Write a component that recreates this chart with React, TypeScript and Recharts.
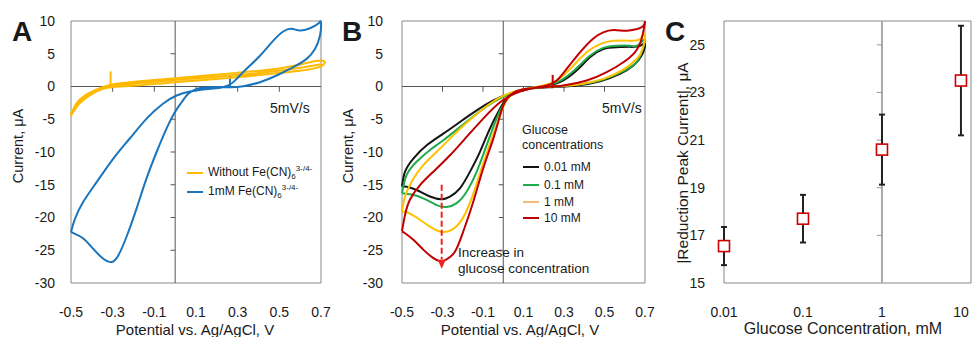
import React from "react";
import {
  LineChart,
  Line,
  XAxis,
  YAxis,
  ReferenceLine,
  ReferenceArea,
  ReferenceDot,
  ScatterChart,
  Scatter,
  ErrorBar,
} from "recharts";

// shared axis ticks for the two CV panels
const potentialTicks = [-0.5, -0.3, -0.1, 0.1, 0.3, 0.5, 0.7];
const currentTicks = [-30, -25, -20, -15, -10, -5, 0, 5, 10];
const originTicksX = [-0.3, -0.1, 0.1, 0.3, 0.5]; // little marks on the I = 0 line
const originTicksY = [-25, -20, -15, -10, -5, 5]; // little marks on the E = 0 line

// Panel A: without ferricyanide (two cycles)
const withoutV = [-0.5, -0.474, -0.434, -0.377, -0.313, -0.185, 0, 0.295, 0.535, 0.7, 0.69, 0.535, 0.295, 0, -0.185, -0.313, -0.377, -0.434, -0.474, -0.5, -0.474, -0.434, -0.377, -0.313, -0.185, 0, 0.295, 0.535, 0.7];
const withoutI = [-4.2, -2.6, -1.37, -0.46, 0.25, 0.76, 1.27, 2.08, 2.95, 3.96, 2.95, 2.18, 1.42, 0.66, 0.15, -0.1, -0.76, -1.88, -3.15, -4.4, -2.8, -1.6, -0.6, 0.1, 0.5, 1.0, 1.75, 2.55, 3.4];

// Panel A: 1 mM Fe(CN)6
const ferriV = [-0.5, -0.481, -0.441, -0.377, -0.297, -0.217, -0.137, -0.057, 0.007, 0.071, 0.135, 0.199, 0.255, 0.295, 0.343, 0.407, 0.471, 0.519, 0.559, 0.599, 0.647, 0.687, 0.7, 0.695, 0.671, 0.631, 0.567, 0.487, 0.407, 0.327, 0.263, 0.167, 0.103, 0.063, 0.031, -0.001, -0.041, -0.089, -0.137, -0.185, -0.233, -0.273, -0.305, -0.345, -0.393, -0.441, -0.481, -0.5];
const ferriI = [-22.2, -20.2, -17.6, -14.6, -11, -7.9, -4.9, -2.6, -1.37, -0.76, -0.46, -0.25, 0.15, 1.17, 2.7, 4.7, 7.0, 8.4, 8.8, 8.55, 8.9, 9.6, 9.8, 7.77, 5.74, 4.22, 2.95, 1.68, 0.66, 0.05, -0.1, -0.1, -0.36, -1.12, -2.4, -3.9, -6.4, -10, -14, -18.6, -22.9, -25.8, -26.8, -26.3, -24.8, -23.2, -22.5, -22.2];

// Panel B: glucose series
const g001V = [-0.5, -0.485, -0.444, -0.378, -0.296, -0.214, -0.131, -0.049, 0.033, 0.115, 0.198, 0.28, 0.362, 0.428, 0.494, 0.56, 0.626, 0.675, 0.7, 0.683, 0.642, 0.576, 0.478, 0.362, 0.231, 0.148, 0.066, 0.016, -0.016, -0.066, -0.115, -0.164, -0.214, -0.263, -0.304, -0.362, -0.428, -0.477, -0.5];
const g001I = [-15.3, -13.0, -11.0, -8.97, -7.19, -5.42, -3.65, -2.13, -1.11, -0.46, 0, 0.66, 2.43, 4.46, 5.72, 6.0, 6.05, 6.2, 6.5, 4.71, 3.19, 1.93, 0.8, 0.15, -0.1, -0.25, -0.76, -1.87, -3.39, -6.43, -9.98, -13.0, -15.55, -16.8, -17.2, -16.8, -15.8, -15.3, -15.3];

const g01V = [-0.5, -0.477, -0.428, -0.362, -0.296, -0.214, -0.131, -0.049, 0.033, 0.115, 0.198, 0.28, 0.362, 0.428, 0.494, 0.56, 0.626, 0.667, 0.7, 0.683, 0.65, 0.576, 0.478, 0.362, 0.231, 0.132, 0.058, 0.008, -0.033, -0.082, -0.131, -0.181, -0.23, -0.28, -0.329, -0.395, -0.452, -0.5];
const g01I = [-16.3, -13.5, -11.5, -9.7, -8.2, -6.2, -4.15, -2.4, -1.1, -0.4, 0.05, 0.86, 2.8, 4.7, 5.9, 6.23, 6.23, 6.33, 7.2, 5.2, 3.44, 2.08, 0.91, 0.25, -0.05, -0.25, -0.86, -2.4, -4.9, -8.97, -13.0, -16.06, -17.8, -18.4, -18.1, -17.07, -16.5, -16.3];

const g1V = [-0.5, -0.485, -0.452, -0.395, -0.312, -0.23, -0.148, -0.066, 0.016, 0.099, 0.181, 0.264, 0.346, 0.412, 0.478, 0.544, 0.626, 0.675, 0.7, 0.688, 0.659, 0.593, 0.494, 0.379, 0.247, 0.148, 0.066, 0.016, -0.016, -0.057, -0.107, -0.156, -0.206, -0.255, -0.304, -0.362, -0.428, -0.477, -0.5];
const g1I = [-19.1, -16.8, -14.5, -12.0, -9.47, -6.94, -4.66, -2.63, -1.2, -0.46, 0.05, 0.91, 3.19, 5.22, 6.48, 6.99, 6.99, 7.24, 8.0, 5.72, 4.2, 2.58, 1.16, 0.35, 0, -0.2, -0.76, -2.13, -4.41, -7.95, -12.5, -17.07, -20.4, -21.9, -22.2, -21.4, -20.0, -19.2, -19.1];

const g10V = [-0.5, -0.485, -0.461, -0.411, -0.345, -0.263, -0.181, -0.099, -0.016, 0.066, 0.148, 0.214, 0.264, 0.313, 0.379, 0.445, 0.494, 0.544, 0.61, 0.659, 0.692, 0.7, 0.683, 0.65, 0.593, 0.511, 0.412, 0.297, 0.198, 0.115, 0.05, 0.008, -0.016, -0.049, -0.099, -0.148, -0.197, -0.238, -0.28, -0.309, -0.345, -0.395, -0.444, -0.485, -0.5];
const g10I = [-22.1, -19.6, -17.3, -15.05, -13.0, -10.5, -7.7, -4.9, -2.4, -0.96, -0.25, 0.15, 0.91, 2.68, 5.22, 7.34, 8.26, 8.61, 8.51, 8.76, 9.27, 9.78, 7.24, 5.22, 3.7, 2.18, 0.91, 0.15, -0.1, -0.35, -0.96, -2.4, -4.41, -7.95, -12.5, -17.6, -22.1, -25.2, -26.4, -26.7, -26.2, -24.9, -23.4, -22.4, -22.1];

// Panel C: reduction peak current vs concentration
const concentrations = [0.01, 0.1, 1, 10];
const peakCurrent = [16.55, 17.7, 20.6, 23.5];
const peakError = [0.8, 1.0, 1.47, 2.3];
const concTicks = [0.01, 0.1, 1, 10];
const peakTicks = [15, 17, 19, 21, 23, 25];

const pts = (v: number[], i: number[]) => v.map((x, k) => ({ v: x, i: i[k] }));
const peakData = concentrations.map((c, k) => ({ c, p: peakCurrent[k], e: peakError[k] }));

const FONT = '"Liberation Sans", Arial, sans-serif';
const INK = "#1a1a1a";
const tickStyle = { fill: INK, fontSize: 14, fontFamily: FONT };

type TxtProps = {
  x: number;
  y: number;
  size?: number;
  bold?: boolean;
  rotate?: boolean;
  anchor?: "start" | "middle";
  children: React.ReactNode;
};

function Txt({ x, y, size = 14, bold, rotate, anchor = "middle", children }: TxtProps) {
  const t = anchor === "middle" ? "translate(-50%,-50%)" : "translate(0,-50%)";
  return (
    <div
      style={{
        position: "absolute",
        left: x,
        top: y,
        fontSize: size,
        fontWeight: bold ? 700 : 400,
        color: INK,
        lineHeight: 1,
        whiteSpace: "nowrap",
        transform: rotate ? `${t} rotate(-90deg)` : t,
      }}
    >
      {children}
    </div>
  );
}

function LegendRow({ x, y, color, size = 12, children }: { x: number; y: number; color: string; size?: number; children: React.ReactNode }) {
  return (
    <>
      <div style={{ position: "absolute", left: x, top: y - 1, width: 16, height: 2, background: color }} />
      <Txt x={x + 21} y={y} size={size} anchor="start">
        {children}
      </Txt>
    </>
  );
}

const FeCN = () => (
  <>
    Fe(CN)<sub style={{ fontSize: 8, verticalAlign: -3 }}>6</sub>
    <sup style={{ fontSize: 8, verticalAlign: 5 }}>3-/4-</sup>
  </>
);

// box + axes through the origin, shared by panels A and B
function cvFrame() {
  return [
    <ReferenceArea key="box" x1={-0.5} x2={0.7} y1={-30} y2={10} fill="none" stroke="#888" strokeWidth={1} />,
    <ReferenceLine key="x0" x={0} stroke="#555" strokeWidth={1} />,
    <ReferenceLine key="y0" y={0} stroke="#555" strokeWidth={1} />,
    ...originTicksY.map((t) => (
      <ReferenceLine key={"ty" + t} segment={[{ x: -0.022, y: t }, { x: 0, y: t }]} stroke="#555" />
    )),
    ...originTicksX.map((t) => (
      <ReferenceLine key={"tx" + t} segment={[{ x: t, y: 0 }, { x: t, y: -0.8 }]} stroke="#555" />
    )),
  ];
}

function cvAxes(yWidth: number, yMargin: number) {
  return [
    <XAxis
      key="x"
      type="number"
      dataKey="v"
      domain={[-0.5, 0.7]}
      ticks={potentialTicks}
      tickLine={false}
      axisLine={false}
      tickMargin={18}
      height={54}
      tick={tickStyle}
    />,
    <YAxis
      key="y"
      type="number"
      domain={[-30, 10]}
      ticks={currentTicks}
      tickLine={false}
      axisLine={false}
      tickMargin={yMargin}
      width={yWidth}
      tick={tickStyle}
    />,
  ];
}

const lineProps = { type: "natural" as const, dataKey: "i", dot: false, isAnimationActive: false, strokeWidth: 2 };

function PanelA() {
  return (
    <LineChart width={330} height={337} margin={{ top: 21, right: 9, left: 0, bottom: 0 }}>
      {cvAxes(71, 10)}
      {cvFrame()}
      <ReferenceLine segment={[{ x: -0.31, y: 2.3 }, { x: -0.31, y: -0.3 }]} stroke="#ffb900" strokeWidth={2} />
      <ReferenceLine segment={[{ x: 0.263, y: 1.7 }, { x: 0.263, y: -0.1 }]} stroke="#1b75bc" strokeWidth={2} />
      <Line {...lineProps} data={pts(withoutV, withoutI)} stroke="#ffb900" />
      <Line {...lineProps} data={pts(ferriV, ferriI)} stroke="#1b75bc" />
    </LineChart>
  );
}

function PanelB() {
  return (
    <LineChart width={330} height={337} margin={{ top: 21, right: 15, left: 0, bottom: 0 }}>
      {cvAxes(72, 13)}
      {cvFrame()}
      <Line {...lineProps} data={pts(g001V, g001I)} stroke="#141414" />
      <Line {...lineProps} data={pts(g01V, g01I)} stroke="#1faa4b" />
      <Line {...lineProps} data={pts(g1V, g1I)} stroke="#ffc000" />
      <Line {...lineProps} data={pts(g10V, g10I)} stroke="#c00000" />
      <ReferenceLine segment={[{ x: 0.244, y: 1.77 }, { x: 0.244, y: -0.25 }]} stroke="#c00000" strokeWidth={2} />
      <ReferenceLine
        segment={[{ x: -0.304, y: -15 }, { x: -0.304, y: -26.4 }]}
        stroke="#ee2222"
        strokeWidth={2}
        strokeDasharray="6 3"
      />
      <ReferenceDot
        x={-0.304}
        y={-27.2}
        shape={(p: any) => (
          <polygon
            points={`${p.cx - 4},${p.cy - 5} ${p.cx + 4},${p.cy - 5} ${p.cx},${p.cy + 4}`}
            fill="#ee2222"
          />
        )}
      />
    </LineChart>
  );
}

function PanelC() {
  return (
    <ScatterChart width={322} height={337} margin={{ top: 21, right: 1, left: 0, bottom: 0 }}>
      <XAxis
        type="number"
        dataKey="c"
        scale="log"
        domain={[0.01, 13.4]}
        ticks={concTicks}
        tickFormatter={(v: number) => String(v)}
        tickLine={false}
        axisLine={false}
        tickMargin={18}
        height={54}
        tick={tickStyle}
      />
      <YAxis
        type="number"
        dataKey="p"
        domain={[15, 26]}
        ticks={peakTicks}
        tickLine={false}
        axisLine={false}
        tickMargin={13}
        width={74}
        tick={tickStyle}
      />
      <ReferenceArea x1={0.01} x2={13.4} y1={15} y2={26} fill="none" stroke="#888" />
      <ReferenceLine x={1} stroke="#aaa" strokeWidth={2} />
      {peakTicks.slice(1).map((t) => (
        <ReferenceLine key={t} segment={[{ x: 0.86, y: t }, { x: 1, y: t }]} stroke="#999" />
      ))}
      <Scatter
        data={peakData}
        isAnimationActive={false}
        shape={(p: any) => (
          <rect x={p.cx - 5.5} y={p.cy - 5.5} width={11} height={11} fill="#fff" stroke="#cc0000" strokeWidth={1.6} />
        )}
      >
        <ErrorBar dataKey="e" direction="y" width={3} stroke="#222" strokeWidth={2} />
      </Scatter>
    </ScatterChart>
  );
}

export default function App() {
  return (
    <div
      style={{
        position: "absolute",
        left: 0,
        top: 0,
        width: 972,
        height: 337,
        background: "#fff",
        fontFamily: FONT,
        overflow: "hidden",
      }}
    >
      <style>{`.recharts-surface{overflow:visible}`}</style>

      <div style={{ position: "absolute", left: 0, top: 0 }}>
        <PanelA />
      </div>
      <div style={{ position: "absolute", left: 330, top: 0 }}>
        <PanelB />
      </div>
      <div style={{ position: "absolute", left: 650, top: 0 }}>
        <PanelC />
      </div>

      {/* panel letters */}
      <Txt x={22} y={32} size={28} bold>A</Txt>
      <Txt x={352} y={32} size={28} bold>B</Txt>
      <Txt x={675} y={32} size={28} bold>C</Txt>

      {/* axis titles */}
      <Txt x={18} y={146} size={14.5} rotate>Current, μA</Txt>
      <Txt x={195} y={329} size={15}>Potential vs. Ag/AgCl, V</Txt>
      <Txt x={348} y={146} size={14.5} rotate>Current, μA</Txt>
      <Txt x={520} y={329} size={15}>Potential vs. Ag/AgCl, V</Txt>
      <Txt x={683} y={163} size={15.5} rotate>|Reduction Peak Current|, μA</Txt>
      <Txt x={843} y={329} size={16}>Glucose Concentration, mM</Txt>

      {/* panel A annotations */}
      <Txt x={270} y={108} anchor="start">5mV/s</Txt>
      <LegendRow x={187} y={173} color="#ffb900">
        Without <FeCN />
      </LegendRow>
      <LegendRow x={187} y={192} color="#1b75bc">
        1mM <FeCN />
      </LegendRow>

      {/* panel B annotations */}
      <Txt x={602} y={108} anchor="start">5mV/s</Txt>
      <Txt x={522} y={130} size={12.5} anchor="start">Glucose</Txt>
      <Txt x={522} y={145} size={12.5} anchor="start">concentrations</Txt>
      <LegendRow x={523} y={167} color="#141414">0.01 mM</LegendRow>
      <LegendRow x={523} y={184.5} color="#1faa4b">0.1 mM</LegendRow>
      <LegendRow x={523} y={201.5} color="#f8b878">1 mM</LegendRow>
      <LegendRow x={523} y={218} color="#c00000">10 mM</LegendRow>
      <Txt x={458} y={253} size={13.5} anchor="start">Increase in</Txt>
      <Txt x={458} y={269} size={13.5} anchor="start">glucose concentration</Txt>
    </div>
  );
}
